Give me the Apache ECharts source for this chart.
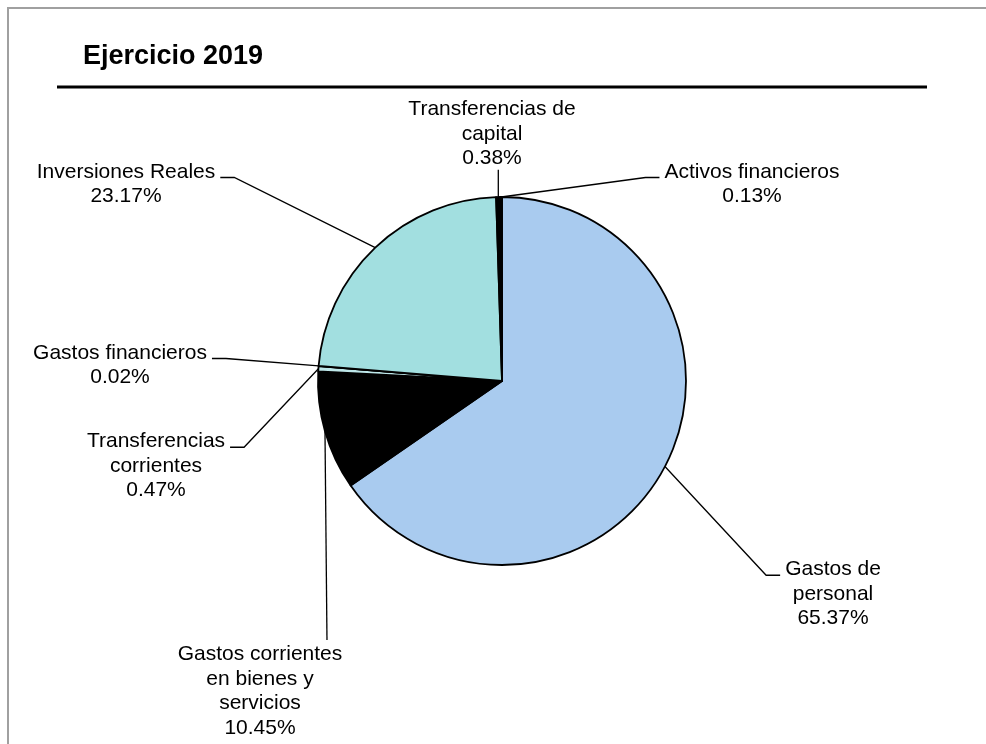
<!DOCTYPE html>
<html>
<head>
<meta charset="utf-8">
<script src="https://cdn.jsdelivr.net/npm/echarts@6/dist/echarts.min.js"></script>
<style>
  html, body { margin: 0; padding: 0; background: #fff; }
  #chart { width: 986px; height: 744px; }
</style>
</head>
<body>
<div id="chart"></div>
<script>
// datos del gráfico (porcentajes del ejercicio)
var categories = [
  'Gastos de\npersonal',
  'Gastos corrientes\nen bienes y\nservicios',
  'Transferencias\ncorrientes',
  'Gastos financieros',
  'Inversiones Reales',
  'Transferencias de\ncapital',
  'Activos financieros'
];
var values = [65.37, 10.45, 0.47, 0.02, 23.17, 0.38, 0.13];
var colors = ['#A9CBEF', '#000000', '#BDE6E8', '#FFFFFF', '#A2DFE0', '#000000', '#1F35B0'];

// posición de cada etiqueta (centro del bloque) y lado de la línea guía
var labelPos = [
  { x: 833, y: 594, side: 'right' },
  { x: 260, y: 691, side: 'bottom' },
  { x: 156, y: 466, side: 'left' },
  { x: 120, y: 365, side: 'left' },
  { x: 126, y: 184, side: 'left' },
  { x: 492, y: 134, side: 'top' },
  { x: 752, y: 184, side: 'right' }
];

var LINE_H = 24.5;

var chart = echarts.init(document.getElementById('chart'));

var pieData = categories.map(function (name, i) {
  return { name: name, value: values[i], itemStyle: { color: colors[i] } };
});

var option = {
  animation: false,
  title: {
    text: 'Ejercicio 2019',
    left: 78,
    top: 38,
    textStyle: {
      fontFamily: 'Liberation Sans, Arial, sans-serif',
      fontSize: 27,
      fontWeight: 'bold',
      color: '#000'
    }
  },
  graphic: [
    {
      type: 'rect',
      shape: { x: 8, y: 8, width: 1000, height: 760 },
      style: { fill: 'none', stroke: '#A0A0A0', lineWidth: 2 },
      silent: true
    },
    {
      type: 'line',
      shape: { x1: 57, y1: 87, x2: 927, y2: 87 },
      style: { stroke: '#000', lineWidth: 3 },
      silent: true
    }
  ],
  series: [
    {
      type: 'pie',
      center: [502, 381],
      radius: 184,
      startAngle: 90,
      clockwise: true,
      avoidLabelOverlap: false,
      minAngle: 0,
      itemStyle: { borderColor: '#000', borderWidth: 1.8 },
      label: {
        show: true,
        position: 'outside',
        fontFamily: 'Liberation Sans, Arial, sans-serif',
        fontSize: 21,
        lineHeight: LINE_H,
        color: '#000',
        align: 'center',
        formatter: function (p) {
          return p.name + '\n' + p.value.toFixed(2) + '%';
        }
      },
      labelLine: {
        show: true,
        length: 20,
        length2: 10,
        lineStyle: { color: '#000', width: 1.3 }
      },
      labelLayout: function (params) {
        var pos = labelPos[params.dataIndex];
        var w = params.labelRect.width;
        var h = params.labelRect.height;
        var left = pos.x - w / 2, right = pos.x + w / 2;
        var top = pos.y - h / 2, bottom = pos.y + h / 2;
        var start = params.labelLinePoints ? params.labelLinePoints[0] : [pos.x, pos.y];
        var pts;
        if (pos.side === 'right') {
          pts = [start, [left - 19, top + 18], [left - 5, top + 18]];
        } else if (pos.side === 'left') {
          pts = [start, [right + 19, top + 18], [right + 5, top + 18]];
        } else if (pos.side === 'top') {
          pts = [start, [start[0], bottom - 1]];
        } else {
          pts = [start, [start[0] + 2, top - 2]];
        }
        return {
          x: pos.x,
          y: pos.y,
          align: 'center',
          verticalAlign: 'middle',
          labelLinePoints: pts
        };
      },
      data: pieData
    }
  ]
};

chart.setOption(option);
</script>
</body>
</html>
